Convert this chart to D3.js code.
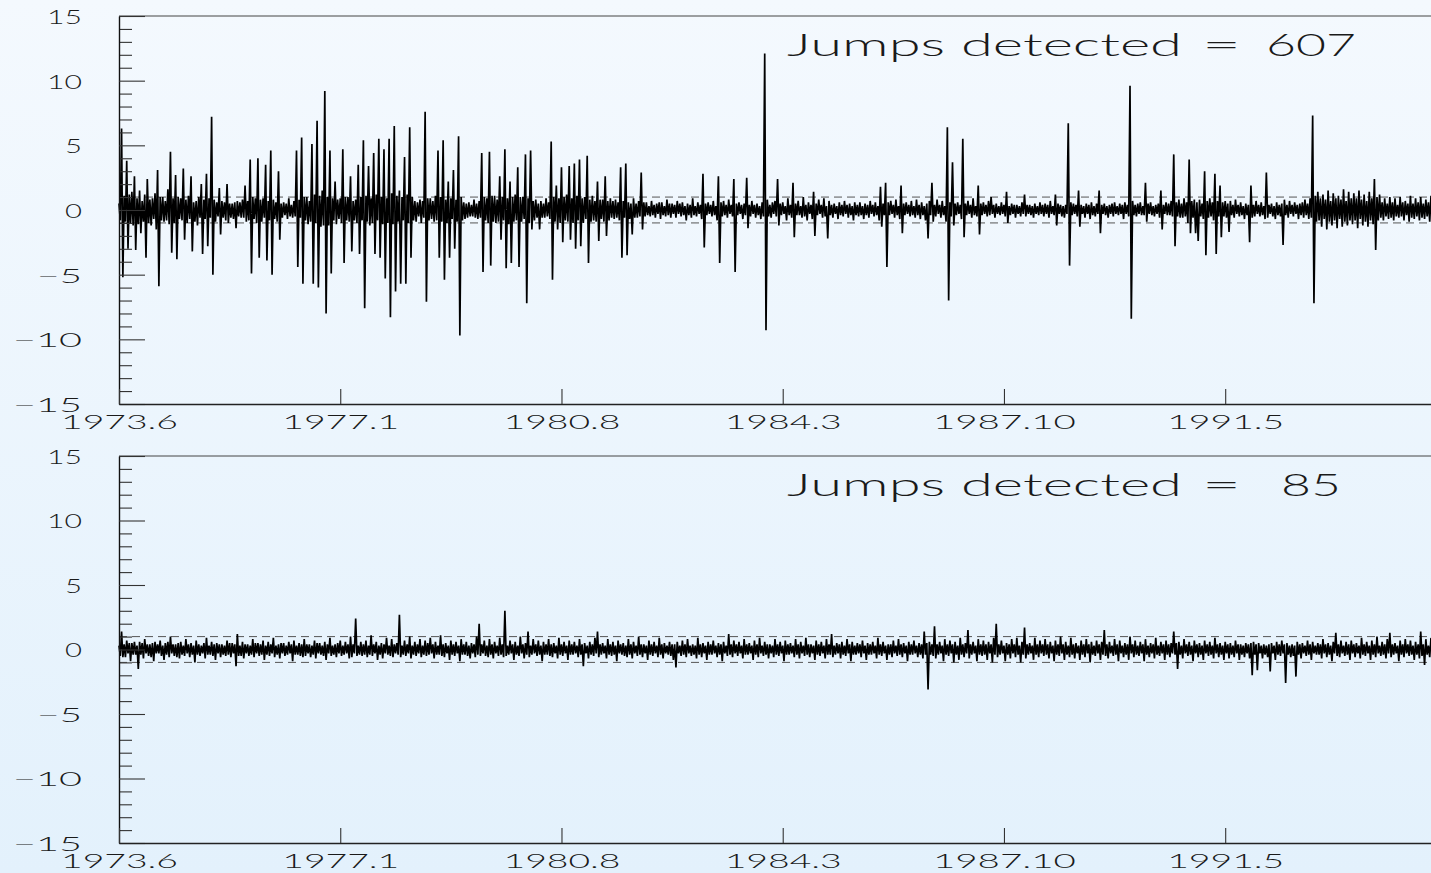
<!DOCTYPE html>
<html>
<head>
<meta charset="utf-8">
<script src="https://cdn.jsdelivr.net/npm/d3@7"></script>
<style>
  html, body { margin: 0; padding: 0; overflow: hidden; }
  svg { display: block; }
</style>
</head>
<body>
<svg id="chart" width="1431" height="873"></svg>
<script>
// Time axis labels, "year.month"; positions are derived from the label itself
const monthTicks = ["1973.6", "1977.1", "1980.8", "1984.3", "1987.10", "1991.5"];
const yTicks = [-15, -10, -5, 0, 5, 10, 15];
const bandLevels = [-1, 1];
const sampleStepMonths = 0.25;  // one value every quarter month
const lastMonth = 255;          // months after 1973.6 shown at the right edge
const jumpCounts = [607, 85];

// Raw returns (upper panel), one row per year starting 1973.6
const rawReturns = [
  0.5,-0.8,6.3,-5.2,1.1,-0.9,3.8,-3.0,1.2,-1.0,1.4,-1.2,2.6,-3.1,0.9,-1.1,1.5,-1.8,0.7,-0.9,1.2,-3.7,2.4,-1.0,
  0.8,-1.2,0.9,-0.7,1.3,-1.5,3.1,-5.9,1.0,-0.8,1.0,-0.9,0.7,-0.8,1.6,-1.1,4.5,-3.3,0.9,-1.0,2.7,-3.8,1.0,-0.7,

  0.9,-0.8,3.2,-2.3,0.8,-1.0,1.1,-0.7,2.6,-3.2,0.6,-0.9,0.7,-1.2,1.0,-0.6,2.0,-3.4,0.8,-0.7,2.8,-2.8,0.9,-0.6,
  7.2,-5.0,0.8,-0.9,0.6,-0.5,1.7,-1.9,0.7,-0.6,0.6,-0.8,2.0,-1.0,0.5,-0.6,0.5,-0.7,0.6,-1.4,0.7,-0.5,0.6,-0.6,

  0.8,-0.6,1.9,-0.9,0.7,-0.8,3.9,-4.9,1.0,-0.7,0.9,-1.0,4.0,-3.7,0.8,-0.9,0.9,-0.6,3.5,-3.9,0.7,-0.8,4.6,-5.0,
  0.8,-0.7,0.6,-0.9,3.0,-2.3,0.5,-0.6,0.6,-0.4,0.5,-0.7,0.9,-0.5,0.4,-0.6,0.7,-0.5,4.6,-4.4,0.8,-0.6,5.6,-5.7,

  1.0,-0.8,1.0,-1.1,0.7,-0.9,5.1,-5.7,1.2,-1.0,6.9,-6.0,1.1,-1.3,1.5,-1.2,9.2,-8.0,1.0,-1.2,4.6,-4.9,0.9,-0.8,
  2.2,-1.1,0.8,-0.7,0.9,-1.0,4.7,-4.1,1.0,-0.8,1.0,-0.9,2.6,-3.2,0.7,-0.8,0.8,-1.0,3.5,-3.4,1.0,-0.8,5.4,-7.6,

  1.1,-0.9,3.4,-1.2,0.9,-1.0,4.4,-3.4,1.2,-0.8,5.5,-3.7,1.0,-1.1,4.7,-5.3,0.9,-1.0,5.5,-8.3,1.3,-1.1,6.5,-6.3,
  1.1,-0.9,1.5,-5.7,1.0,-0.8,4.1,-5.7,1.2,-1.0,6.4,-3.7,1.0,-0.8,0.7,-0.9,0.6,-0.5,0.8,-1.0,0.7,-0.6,7.6,-7.1,

  0.9,-0.8,0.9,-0.7,0.7,-0.9,1.1,-0.8,4.6,-3.7,1.0,-0.9,5.4,-5.4,0.8,-1.0,2.2,-3.7,0.9,-0.7,3.1,-3.0,0.8,-0.9,
  5.7,-9.7,1.0,-0.8,0.6,-0.7,0.5,-0.6,0.6,-0.5,0.4,-0.5,0.8,-0.6,0.5,-0.7,0.7,-0.6,4.4,-4.8,1.0,-0.8,0.9,-1.0,

  4.5,-4.3,1.1,-0.9,1.1,-1.0,0.8,-0.9,2.6,-2.3,1.0,-0.8,4.7,-4.5,0.9,-1.1,2.2,-4.1,1.0,-0.9,1.2,-0.8,3.3,-4.4,
  1.0,-0.9,1.0,-0.7,4.3,-7.2,0.9,-1.0,4.6,-1.5,0.7,-0.8,0.8,-0.6,0.5,-1.5,0.7,-0.6,0.5,-0.6,0.9,-0.5,0.6,-0.7,

  5.3,-5.4,1.0,-0.9,1.9,-1.5,0.9,-1.0,3.3,-2.5,1.0,-0.8,1.2,-0.9,3.4,-2.3,0.9,-1.0,3.6,-3.0,1.1,-0.8,3.9,-2.8,
  0.9,-1.0,1.0,-0.7,4.2,-4.1,0.8,-0.9,1.1,-0.8,0.7,-0.9,2.2,-2.4,0.8,-0.7,0.8,-0.9,2.6,-2.0,0.7,-0.8,0.9,-0.6,

  0.7,-0.7,0.8,-0.6,0.6,-0.8,3.3,-3.7,0.7,-0.6,3.6,-3.5,0.6,-0.7,0.5,-1.9,0.9,-0.6,0.5,-0.6,0.7,-0.5,2.9,-1.5,
  0.6,-0.5,0.6,-0.4,0.3,-0.5,0.7,-0.4,0.4,-0.6,0.5,-0.3,0.6,-0.7,0.6,-0.4,0.3,-0.5,0.8,-0.4,0.5,-0.6,0.5,-0.3,

  0.4,-0.6,0.7,-0.3,0.5,-0.5,0.6,-0.4,0.3,-0.8,0.5,-0.4,0.4,-0.6,0.9,-0.4,0.3,-0.5,0.6,-0.3,0.4,-0.7,2.8,-2.9,
  0.5,-0.4,0.6,-0.3,0.4,-0.5,0.7,-0.4,0.3,-0.8,2.6,-4.1,0.6,-0.5,0.7,-0.4,0.4,-0.6,0.8,-0.3,0.4,-0.5,2.4,-4.8,

  0.5,-0.4,0.6,-0.3,0.4,-0.7,0.5,-0.4,2.5,-1.4,0.4,-0.5,0.7,-0.3,0.4,-0.6,0.5,-0.4,0.3,-0.7,0.6,-0.5,12.1,-9.3,
  0.8,-0.5,0.4,-0.6,0.6,-0.3,0.7,-0.5,2.4,-1.2,0.5,-0.4,0.6,-0.3,0.3,-0.8,0.9,-0.4,0.4,-0.6,2.1,-2.1,0.5,-0.4,

  0.7,-0.4,0.3,-0.6,1.0,-0.5,0.4,-0.8,0.6,-0.3,0.4,-0.7,1.4,-2.0,0.5,-0.4,0.8,-0.3,0.4,-0.6,0.9,-0.5,0.3,-2.2,
  0.7,-0.4,0.4,-0.6,0.5,-0.3,0.3,-0.7,0.6,-0.4,0.4,-0.5,0.7,-0.3,0.4,-0.6,0.5,-0.4,0.3,-0.8,0.6,-0.4,0.4,-0.5,

  0.6,-0.4,0.3,-0.7,0.5,-0.4,0.4,-0.6,0.7,-0.3,0.4,-0.5,0.6,-0.4,0.3,-0.8,1.8,-1.3,0.5,-0.4,2.1,-4.4,0.6,-0.4,
  0.7,-0.3,0.4,-0.6,0.8,-0.4,0.3,-0.7,1.9,-1.8,0.5,-0.4,0.6,-0.3,0.4,-0.5,0.7,-0.4,0.3,-0.6,0.8,-0.4,0.4,-0.7,

  0.6,-0.4,0.3,-0.8,0.5,-2.2,0.7,-0.4,2.1,-0.9,0.4,-0.5,0.8,-0.3,0.4,-0.6,0.7,-0.4,0.3,-0.9,6.4,-7.0,0.6,-0.5,
  3.7,-1.2,0.5,-0.4,0.6,-0.3,0.4,-0.7,5.5,-2.1,0.5,-0.4,0.7,-0.3,0.4,-0.6,0.9,-0.4,0.3,-0.5,1.9,-1.9,0.5,-0.4,

  0.6,-0.3,0.4,-0.5,0.7,-0.4,1.0,-0.3,0.4,-0.6,0.5,-0.3,0.3,-0.4,0.6,-0.3,0.4,-0.5,1.4,-1.0,0.3,-0.4,0.5,-0.3,
  0.4,-0.6,0.4,-0.3,0.3,-0.5,0.6,-0.3,1.2,-0.5,0.4,-0.3,0.4,-0.4,0.3,-0.6,0.5,-0.3,0.3,-0.4,0.6,-0.3,0.4,-0.5,

  0.5,-0.3,0.4,-0.6,0.7,-0.3,0.3,-0.4,1.2,-1.2,0.5,-0.3,0.4,-0.5,0.3,-0.6,0.4,-0.3,6.7,-4.3,0.6,-0.4,0.5,-0.3,
  0.4,-0.5,1.5,-1.3,0.4,-0.3,0.3,-0.6,0.5,-0.3,0.4,-0.7,0.6,-0.4,0.3,-0.5,0.5,-0.3,1.5,-1.8,0.4,-0.3,0.5,-0.4,

  0.3,-0.6,0.4,-0.3,0.5,-0.5,0.6,-0.3,0.3,-0.4,0.5,-0.3,0.4,-0.7,0.6,-0.3,0.4,-0.5,9.6,-8.4,0.7,-0.4,0.4,-0.5,
  0.5,-0.3,0.6,-0.4,0.3,-0.4,2.1,-0.9,0.5,-0.3,0.6,-0.4,0.3,-0.5,0.4,-0.3,0.5,-0.6,1.5,-1.5,0.4,-0.3,0.6,-0.4,

  0.5,-0.4,0.7,-0.5,4.3,-2.8,0.6,-0.5,0.8,-0.6,0.5,-0.6,0.9,-0.5,0.6,-1.0,3.9,-1.8,0.7,-0.6,0.8,-1.8,0.6,-2.4,
  0.8,-0.5,0.5,-0.7,3.0,-3.5,0.7,-0.6,0.9,-0.5,0.6,-0.8,2.8,-3.4,0.7,-0.5,1.9,-2.1,0.6,-0.5,0.7,-0.6,0.5,-1.7,

  0.7,-0.4,0.4,-0.6,0.8,-0.3,0.4,-0.5,0.6,-0.4,0.3,-0.7,0.5,-0.4,0.4,-2.5,1.9,-0.6,0.4,-0.5,0.7,-0.3,0.4,-0.5,
  0.6,-0.4,0.3,-0.7,2.9,-0.6,0.4,-0.3,0.5,-0.5,0.3,-0.7,0.6,-0.4,0.4,-0.5,0.5,-2.7,0.8,-0.4,0.4,-0.6,0.7,-0.3,

  0.4,-0.5,0.6,-0.3,0.4,-0.7,0.5,-0.4,0.6,-0.6,0.8,-0.4,0.5,-0.7,0.9,-0.6,7.3,-7.2,1.1,-0.9,1.4,-0.8,0.9,-1.3,
  1.2,-0.7,0.8,-1.5,1.5,-0.9,0.7,-1.2,1.3,-0.8,0.9,-1.4,1.1,-0.7,0.8,-1.3,1.6,-0.9,0.7,-1.2,1.4,-0.8,0.9,-1.1,

  1.3,-0.8,0.9,-1.4,1.5,-0.7,0.8,-1.2,1.2,-0.9,0.7,-1.3,1.4,-0.8,0.9,-1.1,2.4,-3.1,1.0,-0.8,1.2,-0.6,0.6,-0.8,
  0.9,-0.5,0.5,-0.7,1.0,-0.6,0.6,-0.8,0.9,-0.5,0.4,-0.6,1.0,-0.5,0.6,-0.8,0.7,-0.4,0.5,-0.9,1.1,-0.6,0.5,-0.7,

  0.9,-0.5,0.6,-0.8,1.0,-0.6,0.5,-0.7,0.8,-0.5,0.6,-0.9,1.1
];

// Returns after jump filtering (lower panel), same time grid
const filteredReturns = [
  0.3,-0.5,1.4,-0.6,0.4,-0.6,0.7,-0.3,0.5,-0.9,0.5,-0.4,0.6,-0.4,0.3,-1.5,0.6,-0.4,0.5,-0.7,0.8,-0.3,0.4,-0.5,
  0.4,-0.6,0.5,-0.9,0.6,-0.3,0.4,-0.3,0.7,-0.5,0.3,-0.8,0.5,-0.4,0.6,-0.6,1.0,-0.3,0.4,-0.5,0.4,-0.6,0.5,-0.7,

  0.6,-0.4,0.3,-0.5,0.8,-0.3,0.4,-0.6,0.5,-0.4,0.3,-1.0,0.7,-0.4,0.4,-0.5,0.3,-0.3,0.5,-0.7,0.9,-0.4,0.3,-0.4,
  0.6,-0.5,0.4,-0.8,0.5,-0.3,0.4,-0.6,0.4,-0.4,0.3,-0.5,0.7,-0.4,0.5,-0.6,0.5,-0.3,0.4,-1.3,1.2,-0.5,0.3,-0.5,

  0.6,-0.7,0.4,-0.3,0.4,-0.5,0.3,-0.4,0.8,-0.6,0.5,-0.3,0.5,-0.5,0.4,-0.4,0.7,-0.8,0.3,-0.4,0.6,-0.5,0.4,-0.3,
  0.9,-0.6,0.3,-0.4,0.4,-0.7,0.5,-0.3,0.5,-0.5,0.3,-0.4,0.6,-0.3,0.4,-0.9,0.7,-0.4,0.3,-0.4,0.5,-0.5,0.4,-0.6,

  0.8,-0.5,0.4,-0.3,0.4,-0.6,0.3,-0.4,0.7,-0.7,0.5,-0.3,0.5,-0.4,0.3,-0.5,0.6,-0.8,0.4,-0.3,0.9,-0.5,0.3,-0.4,
  0.4,-0.6,0.5,-0.3,0.7,-0.5,0.3,-0.4,0.6,-0.3,0.4,-0.7,1.0,-0.6,0.4,-0.3,2.4,-0.5,0.3,-0.4,0.6,-0.5,0.4,-0.4,

  0.7,-0.6,0.3,-0.4,1.1,-0.5,0.4,-0.3,0.6,-0.8,0.3,-0.4,0.5,-0.7,0.4,-0.3,0.9,-0.4,0.3,-0.5,0.8,-0.6,0.4,-0.3,
  0.5,-0.4,2.7,-0.6,0.3,-0.4,0.7,-0.5,0.4,-0.3,1.0,-0.7,0.3,-0.4,0.6,-0.5,0.4,-0.3,0.8,-0.6,0.3,-0.4,0.7,-0.5,

  0.5,-0.4,0.9,-0.3,0.4,-0.7,0.6,-0.4,0.3,-0.4,1.1,-0.5,0.4,-0.6,0.5,-0.3,0.3,-0.8,0.7,-0.4,0.4,-0.5,0.6,-0.3,
  0.3,-0.9,0.8,-0.4,0.4,-0.4,0.6,-0.5,0.3,-0.7,0.5,-0.3,0.4,-0.6,1.0,-0.4,2.0,-0.5,0.4,-0.3,0.7,-0.5,0.3,-0.6,

  0.8,-0.4,0.4,-0.7,0.6,-0.3,0.3,-0.5,0.9,-0.4,0.4,-0.6,3.0,-0.5,0.3,-0.4,0.7,-0.3,0.4,-0.8,0.6,-0.4,0.3,-0.5,
  1.0,-0.3,0.4,-0.7,0.5,-0.4,1.4,-0.6,0.3,-0.4,0.8,-0.3,0.4,-0.5,0.7,-0.4,0.3,-0.9,0.6,-0.4,0.4,-0.4,0.8,-0.5,

  0.4,-0.6,0.5,-0.3,0.3,-0.7,0.9,-0.4,0.4,-0.5,0.6,-0.3,0.3,-0.8,0.7,-0.4,0.4,-0.4,0.6,-0.3,0.3,-0.6,0.8,-0.4,
  0.4,-1.3,0.5,-0.3,0.3,-0.7,0.6,-0.4,0.4,-0.5,0.9,-0.3,1.4,-0.6,0.4,-0.4,0.5,-0.3,0.3,-0.7,0.8,-0.4,0.4,-0.5,

  0.6,-0.4,0.3,-0.9,0.7,-0.3,0.4,-0.4,0.5,-0.5,0.3,-0.6,0.8,-0.4,0.4,-0.7,0.6,-0.3,0.3,-0.5,1.0,-0.4,0.4,-0.6,
  0.4,-0.3,0.3,-0.8,0.7,-0.4,0.4,-0.5,0.6,-0.3,0.3,-0.6,0.9,-0.4,0.4,-0.7,0.5,-0.3,0.3,-0.4,0.6,-0.5,0.4,-0.8,

  0.4,-1.4,0.6,-0.3,0.3,-0.5,0.7,-0.4,0.4,-0.6,0.8,-0.3,0.3,-0.5,0.4,-0.4,0.3,-0.7,0.9,-0.4,0.4,-0.6,0.5,-0.3,
  0.3,-0.8,0.6,-0.4,0.4,-0.4,0.7,-0.3,0.3,-0.6,0.5,-0.4,0.4,-0.9,0.6,-0.3,0.3,-0.5,1.2,-0.4,0.4,-0.6,0.7,-0.3,

  0.4,-0.5,0.6,-0.3,0.3,-0.7,0.8,-0.4,0.4,-0.4,0.5,-0.3,0.3,-0.8,0.7,-0.4,0.4,-0.6,0.9,-0.3,0.3,-0.5,0.6,-0.4,
  0.4,-0.7,0.4,-0.3,0.3,-0.6,0.8,-0.4,0.4,-0.5,0.6,-0.3,0.3,-0.9,0.7,-0.4,0.4,-0.4,0.5,-0.3,0.3,-0.6,0.8,-0.4,

  0.4,-0.7,0.6,-0.3,0.3,-0.5,0.9,-0.4,0.4,-0.6,0.4,-0.3,0.3,-0.8,0.7,-0.4,0.4,-0.5,0.6,-0.3,0.3,-0.7,0.8,-0.4,
  0.4,-0.4,1.2,-0.6,0.3,-0.4,0.5,-0.3,0.4,-0.7,0.6,-0.4,0.3,-0.5,0.8,-0.3,0.4,-0.9,0.6,-0.4,0.3,-0.4,0.5,-0.3,

  0.4,-0.6,0.7,-0.3,0.3,-0.8,0.5,-0.4,0.4,-0.4,0.6,-0.3,0.3,-0.7,0.9,-0.4,0.4,-0.5,0.6,-0.3,0.3,-0.8,0.4,-0.4,
  0.4,-0.6,0.7,-0.3,0.3,-0.5,0.8,-0.4,0.4,-0.6,0.5,-0.3,0.3,-0.9,0.6,-0.4,0.4,-0.4,0.7,-0.3,0.3,-0.6,0.5,-0.4,

  0.4,-0.7,1.4,-0.4,0.5,-3.1,0.6,-0.4,0.4,-0.5,1.8,-0.7,0.4,-0.4,0.6,-0.3,0.3,-0.9,0.8,-0.4,0.4,-0.5,0.7,-0.3,
  0.4,-1.0,0.6,-0.4,0.3,-0.8,0.9,-0.4,0.4,-0.6,0.5,-0.3,1.5,-0.7,0.4,-0.4,0.6,-0.3,0.3,-0.9,0.8,-0.4,0.4,-0.5,

  0.7,-0.4,0.4,-0.8,0.6,-0.3,0.4,-1.0,0.9,-0.4,2.0,-0.6,0.4,-0.4,0.7,-0.3,0.3,-0.9,0.5,-0.4,0.4,-0.7,0.8,-0.3,
  0.4,-0.6,0.9,-0.4,0.3,-1.0,0.6,-0.4,1.7,-0.7,0.4,-0.4,0.5,-0.3,0.3,-0.8,0.9,-0.4,0.4,-0.6,0.7,-0.3,0.4,-0.5,

  0.8,-0.4,0.4,-0.7,0.6,-0.3,0.3,-0.9,0.7,-0.4,0.4,-0.5,1.0,-0.3,0.4,-0.8,0.6,-0.4,0.3,-0.6,0.9,-0.4,0.4,-0.7,
  0.5,-0.3,0.3,-0.8,0.7,-0.4,0.4,-0.6,0.8,-0.3,0.4,-1.0,0.6,-0.4,0.3,-0.5,0.7,-0.3,0.4,-0.8,0.6,-0.4,1.5,-0.5,

  0.4,-0.7,0.6,-0.3,0.3,-0.5,0.8,-0.4,0.4,-0.9,0.7,-0.3,0.3,-0.6,0.5,-0.4,0.4,-0.8,1.0,-0.3,0.4,-0.6,0.7,-0.4,
  0.3,-0.5,0.6,-0.3,0.4,-0.9,0.8,-0.4,0.3,-0.6,0.5,-0.3,0.4,-0.7,0.9,-0.4,0.3,-0.5,0.6,-0.3,0.4,-0.8,0.7,-0.4,

  0.4,-0.6,0.5,-0.3,1.4,-0.4,0.5,-1.5,0.6,-0.4,0.3,-0.7,0.8,-0.3,0.4,-0.5,0.6,-0.4,0.3,-0.9,0.7,-0.3,0.4,-0.6,
  0.5,-0.4,0.3,-0.8,0.7,-0.3,0.4,-0.5,0.6,-0.4,0.3,-0.7,0.9,-0.3,0.4,-0.6,0.5,-0.4,0.3,-0.8,0.6,-0.3,0.4,-0.7,

  0.5,-0.4,0.3,-0.6,0.7,-0.3,0.4,-0.8,0.4,-0.4,0.3,-0.6,0.5,-0.3,0.4,-0.7,0.5,-2.0,0.6,-0.4,0.4,-1.6,0.5,-0.3,
  0.3,-0.7,0.4,-0.4,0.3,-0.6,0.4,-1.7,0.5,-0.3,0.3,-0.8,0.6,-0.4,0.4,-0.5,0.7,-0.3,0.4,-2.6,0.5,-0.4,0.3,-0.6,

  0.4,-0.5,0.3,-2.1,0.6,-0.4,0.4,-0.7,0.5,-0.3,0.3,-0.5,0.7,-0.4,0.4,-0.8,0.6,-0.3,0.3,-0.4,0.5,-0.4,0.4,-0.7,
  0.8,-0.3,0.4,-0.6,0.5,-0.4,0.3,-0.9,0.6,-0.3,1.3,-0.5,0.4,-0.6,0.7,-0.3,0.3,-0.5,0.6,-0.4,0.4,-0.8,0.7,-0.3,

  0.4,-0.6,0.5,-0.3,0.3,-0.7,0.9,-0.4,0.4,-0.5,0.6,-0.3,0.3,-0.8,0.7,-0.4,0.4,-0.6,1.0,-0.3,0.3,-0.5,0.6,-0.4,
  0.4,-0.7,0.8,-0.3,1.3,-0.6,0.4,-0.4,0.5,-0.3,0.3,-0.9,0.7,-0.4,0.4,-0.6,0.8,-0.3,0.4,-0.5,0.7,-0.4,0.3,-0.8,

  0.6,-0.4,0.4,-0.7,1.4,-0.5,0.4,-1.2,0.8,-0.4,0.3,-0.6,0.9
];

const W = 1431, H = 873;
const FONT = "Lato, 'DejaVu Sans', sans-serif";
const INK = "#1a1a1a";

const svg = d3.select("#chart");

// soft blue page background
const grad = svg.append("defs").append("linearGradient")
  .attr("id", "pageBg").attr("x1", 0).attr("y1", 0).attr("x2", 0).attr("y2", 1);
grad.append("stop").attr("offset", "0%").attr("stop-color", "#f4f9fe");
grad.append("stop").attr("offset", "100%").attr("stop-color", "#e3f1fc");
svg.append("rect").attr("width", W).attr("height", H).attr("fill", "url(#pageBg)");

// "1977.1" -> months since 1973.6
const monthOffset = s => {
  const [yr, mo] = s.split(".").map(Number);
  return (yr - 1973) * 12 + (mo - 6);
};

const x = d3.scaleLinear().domain([0, lastMonth]).range([119, 1431]);
const plotLeft = 119, plotRight = 1440;

function yLabel(d) { return d < 0 ? "\u2212" + Math.abs(d) : String(d); }
function yLabelWidth(d) {
  const digits = String(Math.abs(d)).length;
  return (digits === 2 ? 35 : 17) + (d < 0 ? (digits === 2 ? 34 : 28) : 0);
}

function drawPanel(values, jumps, top, bottom) {
  const y = d3.scaleLinear().domain([-15, 15]).range([bottom, top]);
  const g = svg.append("g");

  // +/- 1 reference band
  g.selectAll("line.band").data(bandLevels).join("line")
    .attr("class", "band")
    .attr("x1", plotLeft).attr("x2", plotRight)
    .attr("y1", d => y(d)).attr("y2", d => y(d))
    .attr("stroke", "#555").attr("stroke-width", 1)
    .attr("stroke-dasharray", "8,5");

  // return series
  const line = d3.line()
    .x((d, i) => x(i * sampleStepMonths))
    .y(d => y(d));
  g.append("path").datum(values)
    .attr("d", line)
    .attr("fill", "none")
    .attr("stroke", "#000")
    .attr("stroke-width", 1.7)
    .attr("stroke-linejoin", "bevel");

  // top frame edge
  g.append("line")
    .attr("x1", plotLeft).attr("x2", plotRight)
    .attr("y1", top).attr("y2", top)
    .attr("stroke", "#444").attr("stroke-width", 1);

  // minor y ticks every unit
  const minor = d3.range(-15, 16).filter(v => v % 5 !== 0);
  g.append("g")
    .attr("transform", `translate(${plotLeft},0)`)
    .call(d3.axisRight(y).tickValues(minor).tickSize(13).tickFormat(""))
    .call(a => a.select(".domain").remove())
    .call(a => a.selectAll("line").attr("stroke", "#333").attr("stroke-width", 1.1));

  // major y ticks with labels, plus the left axis line
  g.append("g")
    .attr("transform", `translate(${plotLeft},0)`)
    .call(d3.axisLeft(y).tickValues(yTicks)
      .tickSizeInner(-26).tickSizeOuter(0).tickPadding(37)
      .tickFormat(yLabel))
    .call(a => a.select(".domain").attr("stroke", "#111").attr("stroke-width", 1.4))
    .call(a => a.selectAll("line").attr("stroke", "#333").attr("stroke-width", 1.1))
    .call(a => a.selectAll("text")
      .attr("font-family", FONT).attr("font-size", 20).attr("font-weight", 300)
      .attr("fill", INK)
      .attr("text-anchor", "start")
      .attr("x", d => -37 - yLabelWidth(d))
      .attr("dy", "0.37em")
      .attr("textLength", d => yLabelWidth(d))
      .attr("lengthAdjust", "spacingAndGlyphs"));

  // time axis
  g.append("g")
    .attr("transform", `translate(0,${bottom})`)
    .call(d3.axisBottom(x).tickValues(monthTicks.map(monthOffset))
      .tickSizeInner(-15).tickSizeOuter(0).tickPadding(0)
      .tickFormat((d, i) => monthTicks[i]))
    .call(a => a.select(".domain").attr("stroke", "#222").attr("stroke-width", 1.3))
    .call(a => a.selectAll("line").attr("stroke", "#333").attr("stroke-width", 1.1))
    .call(a => a.selectAll("text")
      .attr("font-family", FONT).attr("font-size", 20).attr("font-weight", 300)
      .attr("fill", INK)
      .attr("y", 25).attr("dy", 0)
      .attr("textLength", (d, i) => monthTicks[i].length > 6 ? 143 : 117)
      .attr("lengthAdjust", "spacingAndGlyphs"));

  // jump count annotation
  const base = top + 40;
  const label = g.append("g")
    .attr("font-family", FONT).attr("font-size", 31).attr("font-weight", 300)
    .attr("fill", INK);
  label.append("text").attr("x", 787).attr("y", base)
    .attr("textLength", 395).attr("lengthAdjust", "spacingAndGlyphs")
    .text("Jumps detected");
  label.append("text").attr("x", 1202).attr("y", base)
    .attr("textLength", 39).attr("lengthAdjust", "spacingAndGlyphs")
    .text("=");
  const n = String(jumps);
  label.append("text").attr("x", 1311 - n.length * 15).attr("y", base)
    .attr("textLength", n.length * 30).attr("lengthAdjust", "spacingAndGlyphs")
    .text(n);
}

drawPanel(rawReturns, jumpCounts[0], 16, 404);
drawPanel(filteredReturns, jumpCounts[1], 456, 843);
</script>
</body>
</html>
